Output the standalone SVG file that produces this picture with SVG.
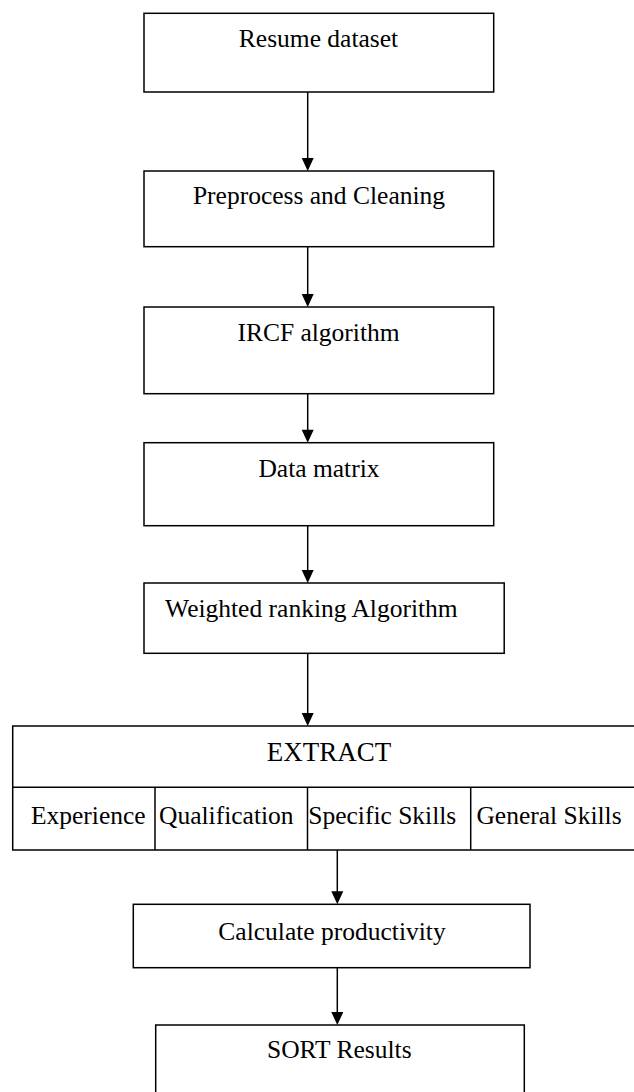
<svg xmlns="http://www.w3.org/2000/svg" width="634" height="1092" viewBox="0 0 634 1092">
<style>
.box{fill:#fff;stroke:#000;stroke-width:1.5}
.ln{stroke:#000;stroke-width:1.5;fill:none}
.arr{stroke:#000;stroke-width:1.5;fill:none;marker-end:url(#ah)}
.t{font-family:"Liberation Serif","Times New Roman",serif;font-size:25.5px;fill:#000;text-anchor:middle}
</style>
<defs>
<marker id="ah" viewBox="0 0 12 13" refX="6" refY="10" markerWidth="12" markerHeight="13" markerUnits="userSpaceOnUse" orient="auto">
<path d="M0,0 L12,0 L6,13 Z" fill="#000" transform="rotate(-90 6 6.5) translate(0 0)"/>
</marker>
</defs>
<rect width="634" height="1092" fill="#fff"/>
<g id="connectors">
<line class="ln" x1="307.7" y1="92" x2="307.7" y2="160"/>
<line class="ln" x1="307.7" y1="246.7" x2="307.7" y2="296"/>
<line class="ln" x1="307.7" y1="393.7" x2="307.7" y2="431.7"/>
<line class="ln" x1="307.7" y1="525.7" x2="307.7" y2="572"/>
<line class="ln" x1="307.7" y1="653.3" x2="307.7" y2="715"/>
<line class="ln" x1="337.3" y1="850" x2="337.3" y2="893.3"/>
<line class="ln" x1="337.3" y1="967.7" x2="337.3" y2="1014"/>
<path d="M301.7,158 L313.7,158 L307.7,171 Z"/>
<path d="M301.7,294 L313.7,294 L307.7,307 Z"/>
<path d="M301.7,429.7 L313.7,429.7 L307.7,442.7 Z"/>
<path d="M301.7,570 L313.7,570 L307.7,583 Z"/>
<path d="M301.7,713 L313.7,713 L307.7,726 Z"/>
<path d="M331.3,891.3 L343.3,891.3 L337.3,904.3 Z"/>
<path d="M331.3,1012 L343.3,1012 L337.3,1025 Z"/>
</g>
<g id="resume">
<rect class="box" x="144" y="13.3" width="349.7" height="78.7"/>
<text class="t" x="318.5" y="47.3">Resume dataset</text>
</g>
<g id="preprocess">
<rect class="box" x="144" y="171" width="349.7" height="75.7"/>
<text class="t" x="319" y="204">Preprocess and Cleaning</text>
</g>
<g id="ircf">
<rect class="box" x="144" y="307" width="349.7" height="86.7"/>
<text class="t" x="318.5" y="341">IRCF algorithm</text>
</g>
<g id="datamatrix">
<rect class="box" x="144" y="442.7" width="349.7" height="83"/>
<text class="t" x="319" y="476.7">Data matrix</text>
</g>
<g id="weighted">
<rect class="box" x="144" y="583" width="360.2" height="70.3"/>
<text class="t" x="311.4" y="616.7">Weighted ranking Algorithm</text>
</g>
<g id="extract">
<rect class="box" x="12.7" y="726" width="630" height="124"/>
<line class="ln" x1="12.7" y1="787.3" x2="642" y2="787.3"/>
<line class="ln" x1="155" y1="787.3" x2="155" y2="850"/>
<line class="ln" x1="307.5" y1="787.3" x2="307.5" y2="850"/>
<line class="ln" x1="470.7" y1="787.3" x2="470.7" y2="850"/>
<text class="t" x="329" y="760.7" style="font-size:27px">EXTRACT</text>
<text class="t" x="88.3" y="824">Experience</text>
<text class="t" x="226.3" y="824">Qualification</text>
<text class="t" x="382.3" y="824">Specific Skills</text>
<text class="t" x="549" y="824">General Skills</text>
</g>
<g id="calculate">
<rect class="box" x="133.3" y="904.3" width="396.7" height="63.4"/>
<text class="t" x="332" y="940">Calculate productivity</text>
</g>
<g id="sort">
<rect class="box" x="155.7" y="1025" width="368.6" height="80"/>
<text class="t" x="339.3" y="1058.3">SORT Results</text>
</g>
</svg>
